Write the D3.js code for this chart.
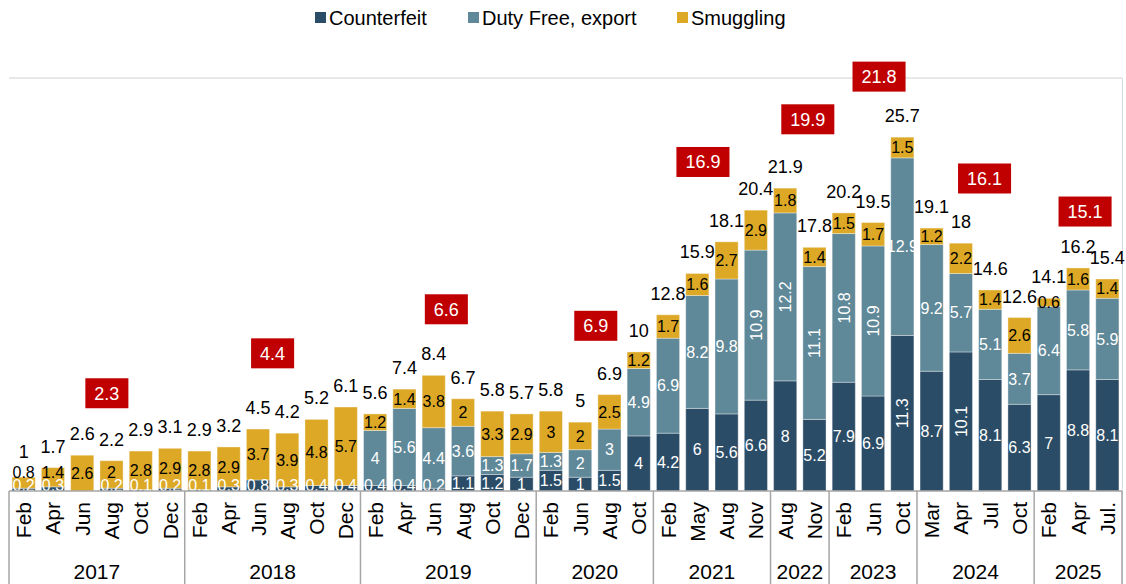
<!DOCTYPE html>
<html>
<head>
<meta charset="utf-8">
<script src="https://cdn.jsdelivr.net/npm/d3@7"></script>
<style>
  body { margin: 0; background: #fff; }
  svg { display: block; font-family: "Liberation Sans", Arial, sans-serif; }
</style>
</head>
<body>
<svg id="chart" width="1126" height="584"></svg>
<script>
// ---- DATA ----
const yearLabels = ["2017", "2018", "2019", "2020", "2021", "2022", "2023", "2024", "2025"];
const yearCounts = [6, 6, 6, 4, 4, 2, 3, 4, 3];
const monthLabels = [
  "Feb", "Apr", "Jun", "Aug", "Oct", "Dec",
  "Feb", "Apr", "Jun", "Aug", "Oct", "Dec",
  "Feb", "Apr", "Jun", "Aug", "Oct", "Dec",
  "Feb", "Jun", "Aug", "Oct",
  "Feb", "May", "Aug", "Nov",
  "Aug", "Nov",
  "Feb", "Jun", "Oct",
  "Mar", "Apr", "Jul", "Oct",
  "Feb", "Apr", "Jul."
];
const counterfeit = [
  0.2, 0.3, 0, 0.2, 0.1, 0.2,
  0.1, 0.3, 0.8, 0.3, 0.4, 0.4,
  0.4, 0.4, 0.2, 1.1, 1.2, 1,
  1.5, 1, 1.5, 4,
  4.2, 6, 5.6, 6.6,
  8, 5.2,
  7.9, 6.9, 11.3,
  8.7, 10.1, 8.1, 6.3,
  7, 8.8, 8.1
];
const dutyFree = [
  0, 0, 0, 0, 0, 0,
  0, 0, 0, 0, 0, 0,
  4, 5.6, 4.4, 3.6, 1.3, 1.7,
  1.3, 2, 3, 4.9,
  6.9, 8.2, 9.8, 10.9,
  12.2, 11.1,
  10.8, 10.9, 12.9,
  9.2, 5.7, 5.1, 3.7,
  6.4, 5.8, 5.9
];
const smuggling = [
  0.8, 1.4, 2.6, 2, 2.8, 2.9,
  2.8, 2.9, 3.7, 3.9, 4.8, 5.7,
  1.2, 1.4, 3.8, 2, 3.3, 2.9,
  3, 2, 2.5, 1.2,
  1.7, 1.6, 2.7, 2.9,
  1.8, 1.4,
  1.5, 1.7, 1.5,
  1.2, 2.2, 1.4, 2.6,
  0.6, 1.6, 1.4
];
const totals = [
  1, 1.7, 2.6, 2.2, 2.9, 3.1,
  2.9, 3.2, 4.5, 4.2, 5.2, 6.1,
  5.6, 7.4, 8.4, 6.7, 5.8, 5.7,
  5.8, 5, 6.9, 10,
  12.8, 15.9, 18.1, 20.4,
  21.9, 17.8,
  20.2, 19.5, 25.7,
  19.1, 18, 14.6, 12.6,
  14.1, 16.2, 15.4
];
const yearAverages = [2.3, 4.4, 6.6, 6.9, 16.9, 19.9, 21.8, 16.1, 15.1];

// layout: height (in value units) and sideways nudge (px) of each red average box
const avgBoxLevel = [7.1, 10.0, 13.2, 12.0, 23.9, 27.0, 30.1, 22.7, 20.3];
const avgBoxNudge = [10, 0, -2, 1, -9, 8, 6, 9, 7];

const seriesNames = ["Counterfeit", "Duty Free, export", "Smuggling"];
const seriesColors = ["#2b4c66", "#5f8898", "#dca826"];
const labelColors = ["#ffffff", "#ffffff", "#000000"];

// ---- SETUP ----
const svg = d3.select("#chart");
const left = 9, right = 1122, baseY = 491, topY = 78;

const x = d3.scaleBand()
  .domain(d3.range(monthLabels.length))
  .range([left, right])
  .paddingInner(0.21)
  .paddingOuter(0.105);

const y = d3.scaleLinear().domain([0, 30]).range([baseY, topY]);

const rows = monthLabels.map((m, i) => ({
  i, month: m, values: [counterfeit[i], dutyFree[i], smuggling[i]], total: totals[i]
}));

// top border line and right border
svg.append("line")
  .attr("x1", left).attr("x2", right)
  .attr("y1", y(30)).attr("y2", y(30))
  .attr("stroke", "#d0d0d0").attr("stroke-width", 1);
svg.append("line")
  .attr("x1", right + 0.5).attr("x2", right + 0.5)
  .attr("y1", y(30)).attr("y2", 584)
  .attr("stroke", "#d9d9d9").attr("stroke-width", 1);

// ---- BARS ----
const barsG = svg.append("g");
rows.forEach(r => {
  let acc = 0;
  const g = barsG.append("g");
  r.values.forEach((v, s) => {
    if (v <= 0) { return; }
    g.append("rect")
      .attr("x", x(r.i))
      .attr("width", x.bandwidth())
      .attr("y", y(acc + v))
      .attr("height", y(acc) - y(acc + v))
      .attr("fill", seriesColors[s])
      .attr("stroke", "rgba(255,255,255,0.35)")
      .attr("stroke-width", 1);
    acc += v;
  });
  r.top = acc;
});

// ---- SEGMENT LABELS ----
const labelsG = svg.append("g");
rows.forEach(r => {
  let acc = 0;
  let prev = baseY - 6 + 13;
  const cx = x(r.i) + x.bandwidth() / 2;
  r.values.forEach((v, s) => {
    if (v <= 0) { return; }
    let cy = y(acc + v / 2);
    cy = Math.min(cy, prev - 13);
    prev = cy;
    acc += v;
    const rotate = v >= 10 && v !== 12.9;
    labelsG.append("text")
      .attr("transform", rotate ? `translate(${cx},${cy}) rotate(-90)` : `translate(${cx},${cy})`)
      .attr("text-anchor", "middle")
      .attr("dy", "0.36em")
      .attr("font-size", 16)
      .attr("fill", labelColors[s])
      .text(v);
  });
  // total label
  labelsG.append("text")
    .attr("x", cx)
    .attr("y", Math.min(y(r.top) - 15, prev - 14))
    .attr("text-anchor", "middle")
    .attr("font-size", 18)
    .attr("fill", "#000")
    .text(r.total);
});

// ---- AXIS ----
const axisG = svg.append("g");
axisG.append("line")
  .attr("x1", left).attr("x2", right)
  .attr("y1", baseY).attr("y2", baseY)
  .attr("stroke", "#a6a6a6").attr("stroke-width", 1.5);

const step = x.step();
const groupStart = [];
let k = 0;
yearCounts.forEach(c => { groupStart.push(k); k += c; });

// group separators
[...groupStart, monthLabels.length].forEach(idx => {
  const sx = left + idx * step;
  axisG.append("line")
    .attr("x1", sx).attr("x2", sx)
    .attr("y1", baseY).attr("y2", 584)
    .attr("stroke", "#a6a6a6").attr("stroke-width", 1.5);
});

// month labels
rows.forEach(r => {
  const cx = x(r.i) + x.bandwidth() / 2;
  axisG.append("text")
    .attr("transform", `translate(${cx},502) rotate(-90)`)
    .attr("text-anchor", "end")
    .attr("dy", "0.36em")
    .attr("font-size", 21)
    .attr("fill", "#000")
    .text(r.month);
});

// year labels
yearLabels.forEach((yl, j) => {
  const cx = left + (groupStart[j] + yearCounts[j] / 2) * step;
  axisG.append("text")
    .attr("x", cx)
    .attr("y", 579)
    .attr("text-anchor", "middle")
    .attr("font-size", 21)
    .attr("fill", "#000")
    .text(yl);
});

// ---- YEAR AVERAGE BOXES ----
const avgG = svg.append("g");
yearAverages.forEach((v, j) => {
  const cx = left + (groupStart[j] + yearCounts[j] / 2) * step + avgBoxNudge[j];
  const cy = y(avgBoxLevel[j]);
  const t = avgG.append("text")
    .attr("x", cx)
    .attr("y", cy)
    .attr("dy", "0.36em")
    .attr("text-anchor", "middle")
    .attr("font-size", 18)
    .attr("fill", "#fff")
    .text(v);
  const w = t.node().getComputedTextLength() + 18;
  avgG.insert("rect", "text")
    .attr("x", cx - w / 2)
    .attr("y", cy - 15)
    .attr("width", w)
    .attr("height", 30)
    .attr("fill", "#c00000");
});

// ---- LEGEND ----
const legendX = [315, 468, 677];
const legendG = svg.append("g");
seriesNames.forEach((name, s) => {
  legendG.append("rect")
    .attr("x", legendX[s]).attr("y", 12)
    .attr("width", 11).attr("height", 11)
    .attr("fill", seriesColors[s]);
  legendG.append("text")
    .attr("x", legendX[s] + 14)
    .attr("y", 25)
    .attr("font-size", 20)
    .attr("fill", "#000")
    .text(name);
});
</script>
</body>
</html>
